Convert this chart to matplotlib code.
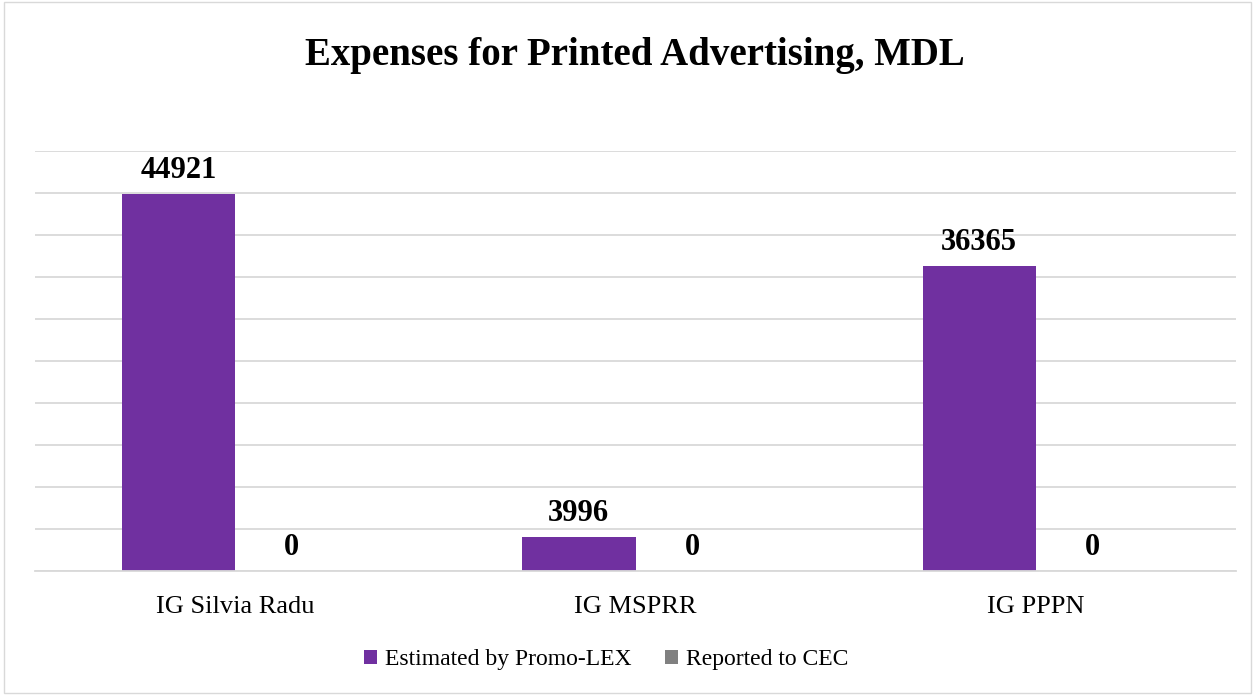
import matplotlib.pyplot as plt
from matplotlib.patches import Rectangle
import numpy as np

categories = ["IG Silvia Radu", "IG MSPRR", "IG PPPN"]
estimated = [44921, 3996, 36365]
reported = [0, 0, 0]
series_names = ["Estimated by Promo-LEX", "Reported to CEC"]
colors = ["#7030A0", "#808080"]

plt.rcParams["font.family"] = ["Liberation Serif", "DejaVu Serif"]

fig = plt.figure(figsize=(12.55, 6.95), dpi=100)
ax = fig.add_axes([35 / 1255, 124 / 695, 1201 / 1255, 420 / 695])

x = np.arange(len(categories))
w = 0.283
bars1 = ax.bar(x - w / 2, estimated, w, color=colors[0], label=series_names[0])
bars2 = ax.bar(x + w / 2, reported, w, color=colors[1], label=series_names[1])

for bars in (bars1, bars2):
    for b in bars:
        ax.annotate(f"{int(b.get_height())}", (b.get_x() + b.get_width() / 2, b.get_height()),
                    xytext=(0, 11.5), textcoords="offset points", ha="center", va="baseline",
                    fontsize=22, fontweight="bold", color="black")

ax.set_xlim(-0.5, 2.5)
ax.set_ylim(0, 50000)
ax.set_yticks(np.arange(0, 50001, 5000))
ax.yaxis.grid(True, color="#d9d9d9", linewidth=1.3)
ax.set_axisbelow(True)
ax.tick_params(axis="y", left=False, labelleft=False)
ax.tick_params(axis="x", length=0, pad=18, labelsize=19)
ax.set_xticks(x)
ax.set_xticklabels(categories)
for s in ["top", "right", "left"]:
    ax.spines[s].set_visible(False)
ax.spines["bottom"].set_color("#d9d9d9")
ax.spines["bottom"].set_linewidth(1.3)

fig.text(635 / 1255, 1 - 56 / 695, "Expenses for Printed Advertising, MDL",
         ha="center", va="center", fontsize=28, fontweight="bold")

fig.legend(loc="center", bbox_to_anchor=(606 / 1255, 1 - 660 / 695), ncol=2, frameon=False,
           fontsize=17, handlelength=0.55, handleheight=0.55, handletextpad=0.35, columnspacing=1.4)

fig.add_artist(Rectangle((0.003, 0.003), 0.994, 0.994, transform=fig.transFigure,
                         fill=False, edgecolor="#d9d9d9", linewidth=1))

fig.savefig("out.png", dpi=100)
